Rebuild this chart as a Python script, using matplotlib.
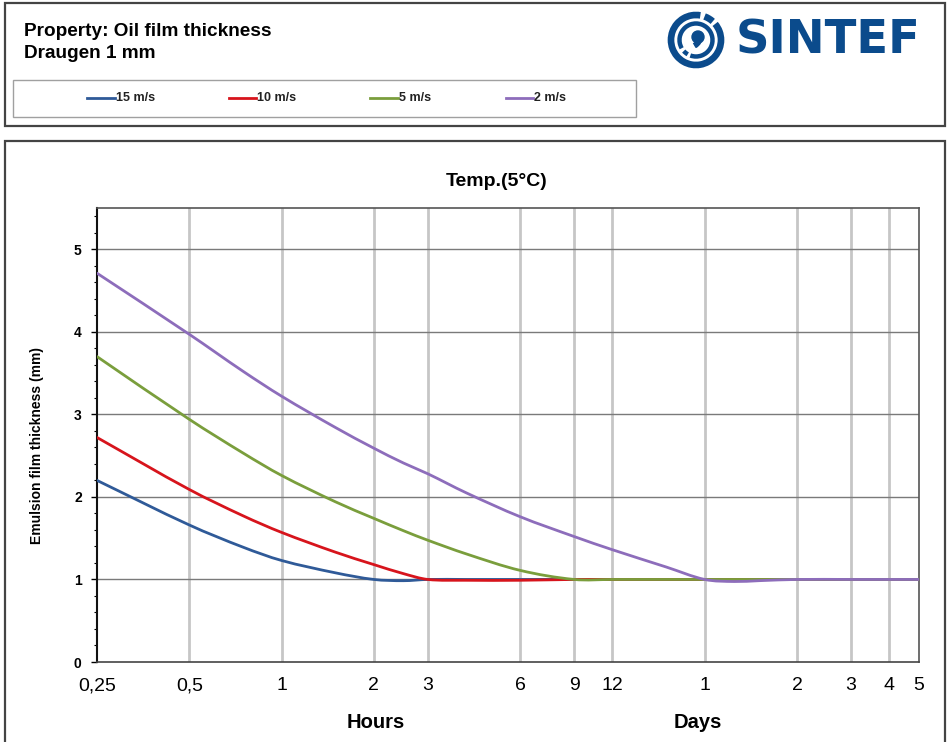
import numpy as np
import matplotlib
matplotlib.use("Agg")
import matplotlib.pyplot as plt
from matplotlib.patches import Rectangle, Circle, Arc, Wedge, PathPatch
from matplotlib.path import Path
from matplotlib.lines import Line2D

plt.rcParams['font.family'] = ['Liberation Sans', 'DejaVu Sans']

# ---- data -------------------------------------------------------------
hours = [0.25, 0.5, 0.75, 1, 1.5, 2, 2.5, 3, 4, 6, 9, 12, 18, 24, 30, 36, 48, 72, 96, 120]

wind_15 = [2.20, 1.66, 1.39, 1.23, 1.08, 1.00, 0.985, 1.00, 1.00, 1.00, 1.00, 1.00,
           1.00, 1.00, 1.00, 1.00, 1.00, 1.00, 1.00, 1.00]
wind_10 = [2.72, 2.09, 1.77, 1.57, 1.33, 1.18, 1.07, 1.00, 0.99, 0.99, 1.00, 1.00,
           1.00, 1.00, 1.00, 1.00, 1.00, 1.00, 1.00, 1.00]
wind_5 = [3.70, 2.94, 2.53, 2.26, 1.94, 1.74, 1.59, 1.475, 1.31, 1.11, 1.00, 1.00,
          1.00, 1.00, 1.00, 1.00, 1.00, 1.00, 1.00, 1.00]
wind_2 = [4.71, 3.97, 3.52, 3.22, 2.84, 2.59, 2.41, 2.28, 2.05, 1.76, 1.52, 1.36,
          1.15, 1.00, 0.975, 0.985, 1.00, 1.00, 1.00, 1.00]

series_labels = ['15 m/s', '10 m/s', '5 m/s', '2 m/s']
series_colors = ['#2f5a98', '#d7141c', '#7a9e3c', '#8d6dbb']

tick_hours = [0.25, 0.5, 1, 2, 3, 6, 9, 12, 24, 48, 72, 96, 120]
tick_labels = ['0,25', '0,5', '1', '2', '3', '6', '9', '12', '1', '2', '3', '4', '5']


def smoothed_path(xs, ys):
    """Cubic Bezier path through the points, tangents taken in log-x space."""
    lx = np.log10(np.asarray(xs, float))
    y = np.asarray(ys, float)
    n = len(y)
    m = np.zeros(n)
    for i in range(n):
        a = max(i - 1, 0)
        b = min(i + 1, n - 1)
        m[i] = (y[b] - y[a]) / (lx[b] - lx[a])
    verts = [(xs[0], y[0])]
    codes = [Path.MOVETO]
    for i in range(n - 1):
        dx = lx[i + 1] - lx[i]
        c1 = (10 ** (lx[i] + dx / 3), y[i] + m[i] * dx / 3)
        c2 = (10 ** (lx[i + 1] - dx / 3), y[i + 1] - m[i + 1] * dx / 3)
        verts += [c1, c2, (xs[i + 1], y[i + 1])]
        codes += [Path.CURVE4] * 3
    return Path(verts, codes)


# ---- figure -----------------------------------------------------------
W, H = 949, 742
fig = plt.figure(figsize=(W / 100, H / 100), dpi=100)


def fx(px):
    return px / W


def fy(py):
    return 1 - py / H


# outer frames
fig.add_artist(Rectangle((fx(5), fy(126)), fx(940), 123 / H, transform=fig.transFigure,
                         fill=False, ec='#444444', lw=1.6))
fig.add_artist(Rectangle((fx(5), fy(760)), fx(940), 619 / H, transform=fig.transFigure,
                         fill=False, ec='#444444', lw=1.6))

# header text
fig.text(fx(24), fy(31), 'Property: Oil film thickness', fontsize=13.7, fontweight='bold',
         va='center', ha='left')
fig.text(fx(24), fy(53), 'Draugen 1 mm', fontsize=13.7, fontweight='bold',
         va='center', ha='left')

# legend box
fig.add_artist(Rectangle((fx(13), fy(117)), fx(623), 37 / H, transform=fig.transFigure,
                         fill=False, ec='#a0a0a0', lw=1.0))
leg_x = [(87, 115), (229, 256), (370, 398), (506, 533)]
for (x0, x1), lab, col in zip(leg_x, series_labels, series_colors):
    fig.add_artist(Line2D([fx(x0), fx(x1)], [fy(98), fy(98)], transform=fig.transFigure,
                          color=col, lw=2))
    fig.text(fx(x1 + 1), fy(98), lab, fontsize=9, fontweight='bold', va='center', ha='left',
             color='#222222')

# logo
logo_blue = '#0b4b8c'
lax = fig.add_axes([fx(664), fy(72), fx(64), 64 / H])
lax.set_xlim(-32, 32)
lax.set_ylim(-32, 32)
lax.set_aspect('equal')
lax.axis('off')
lax.add_patch(Arc((0, 0), 50, 50, theta1=80, theta2=400, lw=4.8, color=logo_blue))
lax.add_patch(Arc((0, 0), 50, 50, theta1=48, theta2=70, lw=4.8, color=logo_blue))
lax.add_patch(Arc((0, 0), 33, 33, theta1=250, theta2=570, lw=3.2, color=logo_blue))
lax.add_patch(Arc((0, 0), 33, 33, theta1=222, theta2=240, lw=3.2, color=logo_blue))
lax.add_patch(Circle((2, 3), 6.0, color=logo_blue))
lax.add_patch(Wedge((-6, 3), 12, 300, 360, width=4.5, color=logo_blue))
fig.text(fx(736), fy(41), 'SINTEF', fontsize=33.5, fontweight='bold', color=logo_blue,
         va='center', ha='left', family='DejaVu Sans')

# ---- main chart -------------------------------------------------------
ax = fig.add_axes([fx(97), fy(662), fx(822), 454 / H])
ax.set_xscale('log')
ax.set_xlim(0.25, 120)
ax.set_ylim(0, 5.5)

for vals, lab, col in zip([wind_15, wind_10, wind_5, wind_2], series_labels, series_colors):
    ax.add_patch(PathPatch(smoothed_path(hours, vals), fill=False, ec=col, lw=2,
                           zorder=3, label=lab, capstyle='round', joinstyle='round'))

ax.set_xticks(tick_hours)
ax.set_xticklabels(tick_labels, fontsize=14)
ax.minorticks_off()
ax.set_yticks([0, 1, 2, 3, 4, 5])
ax.set_yticks([i * 0.2 for i in range(28)], minor=True)
ax.tick_params(axis='y', which='major', length=4, width=1, labelsize=10, pad=7)
ax.tick_params(axis='y', which='minor', length=2, width=0.8)
for t in ax.get_yticklabels():
    t.set_fontweight('bold')
ax.tick_params(axis='x', which='both', length=0, pad=11)

for v in tick_hours[1:-1]:
    ax.axvline(v, color='#c6c6c6', lw=2, zorder=1)
for v in [1, 2, 3, 4, 5]:
    ax.axhline(v, color='#7a7a7a', lw=1, zorder=2)

ax.spines['left'].set_color('#111111')
ax.spines['left'].set_linewidth(1.5)
ax.spines['bottom'].set_color('#444444')
ax.spines['bottom'].set_linewidth(1.2)
for s in ['top', 'right']:
    ax.spines[s].set_color('#555555')
    ax.spines[s].set_linewidth(1.2)

fig.text(fx(37), fy(445), 'Emulsion film thickness (mm)', fontsize=10, fontweight='bold',
         rotation=90, ha='center', va='center')
fig.text(fx(497), fy(182), 'Temp.(5°C)', fontsize=14, fontweight='bold', ha='center', va='center')
fig.text(fx(376), fy(723), 'Hours', fontsize=14.5, fontweight='bold', ha='center', va='center')
fig.text(fx(698), fy(723), 'Days', fontsize=14.5, fontweight='bold', ha='center', va='center')

fig.savefig('out.png', dpi=100)
